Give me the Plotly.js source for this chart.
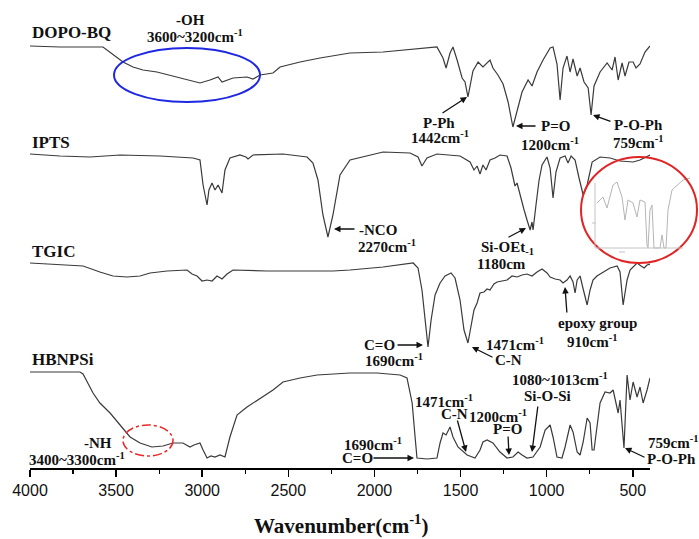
<!DOCTYPE html>
<html>
<head>
<meta charset="utf-8">
<script src="https://cdn.plot.ly/plotly-3.0.1.min.js"></script>
<style>html,body{margin:0;padding:0;background:#fff;}#chart{width:699px;height:539px;}</style>
</head>
<body>
<div id="chart"></div>
<script>
// ---- data (wavenumber in cm-1, relative transmittance height) ----
const wnDOPO = [4000,3826,3576,3535,3460,3402,3344,3263,3170,3088,3013,2955,2908,2885,2821,2740,2705,2664,2589,2548,2432,2316,2142,1950,1753,1637,1602,1584,1561,1544,1520,1491,1474,1457,1428,1398,1370,1346,1329,1312,1283,1253,1224,1196,1166,1143,1108,1085,1056,1021,980,963,940,922,905,882,864,847,823,806,783,759,742,725,690,649,620,603,585,562,545,522,498,481,458,429,400];
const tDOPO  = [422,421,421,416,406,401,398,396,392,388,385,388,391,386,390,391,389,393,395,401,406,410,415,416,419,421,410,400,415,421,408,390,386,371,397,406,401,405,408,400,393,384,366,341,361,376,388,382,396,408,420,421,404,368,400,412,396,409,392,400,386,380,353,382,396,405,398,411,388,405,392,406,406,400,404,416,422];

const wnIPTS = [4000,3826,3652,3477,3245,3053,3013,2995,2972,2961,2943,2926,2908,2885,2868,2839,2781,2746,2734,2705,2531,2391,2357,2328,2299,2270,2241,2200,2142,1950,1793,1747,1724,1695,1637,1503,1445,1422,1404,1387,1370,1352,1329,1300,1271,1230,1207,1196,1184,1172,1155,1131,1114,1096,1085,1079,1062,1044,1027,998,980,963,946,922,893,876,858,835,812,788,765,736,690,632,574,498,458,400];
const tIPTS  = [314,312,311,313,312,310,308,283,263,278,285,278,283,275,298,310,313,311,309,313,314,311,305,288,253,231,253,293,308,316,315,311,302,310,314,312,306,298,302,294,303,298,308,310,313,312,300,290,282,285,273,258,248,238,246,238,263,288,303,311,300,270,296,310,312,305,312,308,290,273,283,306,311,310,307,306,308,313];

const wnTGIC = [4000,3785,3692,3594,3518,3437,3361,3303,3204,3088,3059,3030,3001,2972,2943,2914,2885,2856,2821,2624,2432,2241,2142,1950,1775,1747,1724,1706,1689,1671,1648,1619,1590,1555,1532,1503,1480,1457,1439,1422,1404,1387,1364,1346,1329,1306,1288,1259,1230,1201,1172,1143,1114,1085,1056,1027,998,980,951,922,905,882,864,847,835,823,806,788,765,748,731,708,672,632,591,574,556,533,516,475,452,434,417,400];
const tTGIC  = [205,203,202,196,192,191,192,195,197,198,194,192,187,188,187,192,189,194,198,197,197,197,198,201,205,200,178,145,121,148,173,185,192,195,190,168,138,125,143,158,165,175,176,179,178,184,186,187,188,192,191,193,194,192,196,199,195,191,189,188,185,188,192,186,175,188,192,179,163,178,188,192,196,200,202,196,163,188,198,205,202,200,203,204];

const wnHBN = [4000,3710,3692,3634,3594,3535,3477,3419,3361,3292,3228,3170,3112,3071,3048,3013,2995,2972,2949,2926,2897,2868,2839,2798,2740,2664,2589,2531,2432,2333,2241,2142,1985,1851,1811,1793,1781,1764,1753,1695,1637,1619,1602,1584,1561,1544,1515,1462,1416,1387,1370,1346,1312,1271,1230,1196,1166,1143,1114,1079,1038,1009,980,963,940,911,893,864,847,823,806,788,765,748,736,725,708,690,661,632,614,597,585,574,562,551,533,516,498,475,458,440,417,400];
const tHBN  = [96,96,94,75,65,55,43,31,25,21,22,25,25,21,23,25,18,10,12,11,13,11,31,53,61,70,78,86,90,93,94,95,95,93,90,73,65,31,10,9,10,25,35,33,41,31,21,13,10,18,26,28,25,16,10,11,16,13,10,11,21,38,43,31,11,10,21,43,36,16,13,26,50,45,18,18,41,65,76,75,78,63,55,68,38,20,93,68,86,71,81,65,78,90];

// small inset spectrum inside the red circle
const insetX = [2,8,12,18,22,27,30,33,38,42,45,50,52,53,55,57,59,62,65,67,69,71,73,77,82,88,95];
const insetY = [47,53,42,65,68,53,30,50,47,33,50,48,5,2,40,45,2,2,2,15,2,2,40,60,65,70,72];

const spectrumNames = ['DOPO-BQ','IPTS','TGIC','HBNPSi'];
const xTicks = [4000,3500,3000,2500,2000,1500,1000,500];
const xTitle = 'Wavenumber(cm<sup>-1</sup>)';

// ---- layout helpers ----
const SERIF = 'Liberation Serif, Times New Roman, serif';
const W = 660, H = 468, L = 30;
const P = px => (px - L) / W;
const Q = py => (H - py) / H;
const LINE = '#3a3a3a';

function txt(s, cx, cy, size, anchor) {
  return {text: '<b>' + s + '</b>', x: P(cx), y: Q(cy), xref: 'paper', yref: 'paper',
    showarrow: false, xanchor: anchor || 'center', yanchor: 'middle',
    font: {family: SERIF, size: size || 15, color: '#111'}};
}
function arr(tx, ty, hx, hy) {
  return {text: '', x: P(hx), y: Q(hy), xref: 'paper', yref: 'paper', showarrow: true,
    ax: tx - hx, ay: ty - hy, arrowhead: 2, arrowsize: 1, arrowwidth: 1.3,
    arrowcolor: '#111', standoff: 0};
}
const cm = s => s + 'cm<sup>-1</sup>';

const traces = [
  {x: wnDOPO, y: tDOPO, name: spectrumNames[0]},
  {x: wnIPTS, y: tIPTS, name: spectrumNames[1]},
  {x: wnTGIC, y: tTGIC, name: spectrumNames[2]},
  {x: wnHBN,  y: tHBN,  name: spectrumNames[3]}
].map(t => Object.assign(t, {type: 'scatter', mode: 'lines', line: {color: LINE, width: 1.2}, hoverinfo: 'skip'}));

traces.push({x: insetX, y: insetY, xaxis: 'x2', yaxis: 'y2', type: 'scatter', mode: 'lines',
  line: {color: '#b5b5b5', width: 1}, hoverinfo: 'skip'});

const annotations = [
  txt(spectrumNames[0], 30, 33, 17, 'left'),
  txt(spectrumNames[1], 30, 142, 17, 'left'),
  txt(spectrumNames[2], 30, 251, 17, 'left'),
  txt(spectrumNames[3], 30, 360, 17, 'left'),
  txt('-OH', 190, 20),
  txt(cm('3600~3200'), 195, 36),
  txt('P-Ph', 439, 123), txt(cm('1442'), 440, 137), arr(441, 114, 467, 97),
  txt('P=O', 555, 126), txt(cm('1200'), 550, 144), arr(537, 126, 516, 126),
  txt('P-O-Ph', 638, 125), txt(cm('759'), 638, 142), arr(612, 122, 593, 115),
  txt('-NCO', 378, 230), txt(cm('2270'), 387, 246), arr(356, 229, 334, 229),
  txt('Si-OEt<sub>-1</sub>', 507, 248), txt('1180cm', 501, 264), arr(507, 238, 526, 228),
  txt('C=O', 379, 345), txt(cm('1690'), 394, 360), arr(396, 345, 423, 345),
  txt(cm('1471'), 515, 344), txt('C-N', 508, 360), arr(494, 358, 472, 347),
  txt('epoxy group', 597, 323), txt(cm('910'), 592, 341), arr(567, 314, 565, 287),
  txt('-NH', 98, 443), txt(cm('3400~3300'), 77, 459),
  txt(cm('1690'), 373, 444), txt('C=O', 357, 458), arr(372, 458, 414, 458),
  txt(cm('1471'), 444, 401), txt('C-N', 454, 414), arr(457, 419, 466, 452),
  txt(cm('1200'), 498, 416), txt('P=O', 507, 429), arr(508, 435, 509, 455),
  txt(cm('1080~1013'), 560, 379), txt('Si-O-Si', 547, 396), arr(538, 405, 532, 452),
  txt(cm('759'), 673, 442), txt('P-O-Ph', 671, 459), arr(646, 458, 625, 448),
  txt(xTitle, 341, 524, 21)
];

const shapes = [
  {type: 'circle', xref: 'paper', yref: 'paper', x0: P(114), x1: P(260), y0: Q(102), y1: Q(48),
    line: {color: 'rgb(30,40,225)', width: 2}},
  {type: 'circle', xref: 'paper', yref: 'paper', x0: P(123), x1: P(173), y0: Q(456), y1: Q(425),
    line: {color: 'rgb(235,40,40)', width: 1.5, dash: 'dashdot'}},
  {type: 'circle', xref: 'paper', yref: 'paper', x0: P(581), x1: P(697), y0: Q(263), y1: Q(157),
    line: {color: 'rgb(225,35,35)', width: 2}},
  {type: 'line', xref: 'paper', yref: 'paper', x0: P(595), x1: P(595), y0: Q(183), y1: Q(248),
    line: {color: '#c4c4c4', width: 1}},
  {type: 'line', xref: 'paper', yref: 'paper', x0: P(595), x1: P(683), y0: Q(248), y1: Q(248),
    line: {color: '#c4c4c4', width: 1}},
  {type: 'line', xref: 'paper', yref: 'paper', x0: P(592), x1: P(596), y0: Q(223), y1: Q(223),
    line: {color: '#c4c4c4', width: 1}},
  {type: 'line', xref: 'paper', yref: 'paper', x0: P(619), x1: P(625), y0: Q(252), y1: Q(252),
    line: {color: '#c4c4c4', width: 1}}
];

const layout = {
  width: 699, height: 539,
  margin: {l: L, r: 699 - L - W, t: 0, b: 539 - H},
  paper_bgcolor: '#fff', plot_bgcolor: '#fff',
  showlegend: false,
  xaxis: {
    domain: [0, 620 / W], range: [4000, 400], autorange: false,
    tickvals: xTicks, ticktext: xTicks.map(String),
    ticks: 'outside', ticklen: 7, tickwidth: 1.5, tickcolor: '#000',
    minor: {ticks: 'outside', ticklen: 4, tickwidth: 1.2, tickcolor: '#000', dtick: 250, tick0: 0},
    showline: true, linecolor: '#000', linewidth: 1.5, mirror: false,
    showgrid: false, zeroline: false, automargin: false,
    tickfont: {family: 'Liberation Sans, Arial, sans-serif', size: 16, color: '#111'}
  },
  yaxis: {domain: [0, 1], range: [0, H], visible: false, showgrid: false, zeroline: false},
  xaxis2: {domain: [P(595), 1], range: [0, 95], anchor: 'y2', visible: false},
  yaxis2: {domain: [Q(250), Q(175)], range: [0, 75], anchor: 'x2', visible: false},
  annotations: annotations,
  shapes: shapes
};

Plotly.newPlot('chart', traces, layout, {staticPlot: true, displayModeBar: false});
</script>
</body>
</html>
